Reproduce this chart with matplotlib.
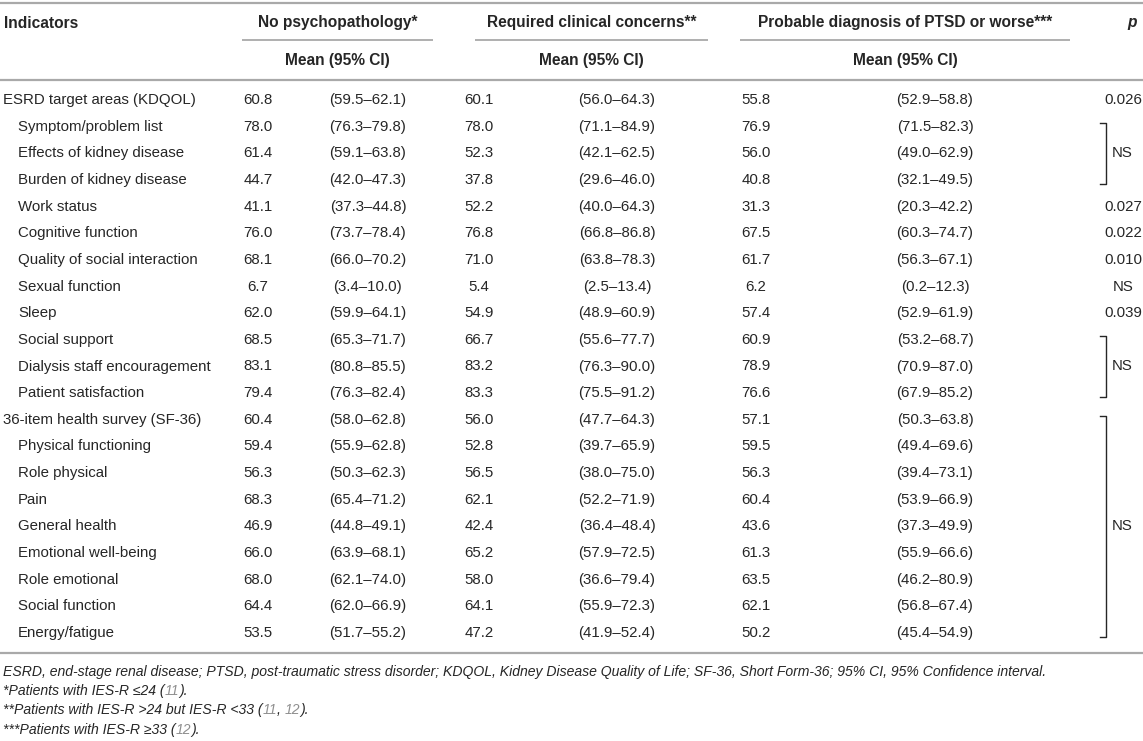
import matplotlib
matplotlib.use("Agg")
import matplotlib.pyplot as plt

# table content
indicators = [
    "ESRD target areas (KDQOL)", "Symptom/problem list", "Effects of kidney disease",
    "Burden of kidney disease", "Work status", "Cognitive function",
    "Quality of social interaction", "Sexual function", "Sleep", "Social support",
    "Dialysis staff encouragement", "Patient satisfaction", "36-item health survey (SF-36)",
    "Physical functioning", "Role physical", "Pain", "General health",
    "Emotional well-being", "Role emotional", "Social function", "Energy/fatigue",
]
section_rows = [0, 12]

no_psych_mean = [60.8, 78.0, 61.4, 44.7, 41.1, 76.0, 68.1, 6.7, 62.0, 68.5, 83.1,
                 79.4, 60.4, 59.4, 56.3, 68.3, 46.9, 66.0, 68.0, 64.4, 53.5]
no_psych_ci = ["59.5–62.1", "76.3–79.8", "59.1–63.8", "42.0–47.3", "37.3–44.8",
               "73.7–78.4", "66.0–70.2", "3.4–10.0", "59.9–64.1", "65.3–71.7",
               "80.8–85.5", "76.3–82.4", "58.0–62.8", "55.9–62.8", "50.3–62.3",
               "65.4–71.2", "44.8–49.1", "63.9–68.1", "62.1–74.0", "62.0–66.9",
               "51.7–55.2"]
clinical_mean = [60.1, 78.0, 52.3, 37.8, 52.2, 76.8, 71.0, 5.4, 54.9, 66.7, 83.2,
                 83.3, 56.0, 52.8, 56.5, 62.1, 42.4, 65.2, 58.0, 64.1, 47.2]
clinical_ci = ["56.0–64.3", "71.1–84.9", "42.1–62.5", "29.6–46.0", "40.0–64.3",
               "66.8–86.8", "63.8–78.3", "2.5–13.4", "48.9–60.9", "55.6–77.7",
               "76.3–90.0", "75.5–91.2", "47.7–64.3", "39.7–65.9", "38.0–75.0",
               "52.2–71.9", "36.4–48.4", "57.9–72.5", "36.6–79.4", "55.9–72.3",
               "41.9–52.4"]
ptsd_mean = [55.8, 76.9, 56.0, 40.8, 31.3, 67.5, 61.7, 6.2, 57.4, 60.9, 78.9,
             76.6, 57.1, 59.5, 56.3, 60.4, 43.6, 61.3, 63.5, 62.1, 50.2]
ptsd_ci = ["52.9–58.8", "71.5–82.3", "49.0–62.9", "32.1–49.5", "20.3–42.2",
           "60.3–74.7", "56.3–67.1", "0.2–12.3", "52.9–61.9", "53.2–68.7",
           "70.9–87.0", "67.9–85.2", "50.3–63.8", "49.4–69.6", "39.4–73.1",
           "53.9–66.9", "37.3–49.9", "55.9–66.6", "46.2–80.9", "56.8–67.4",
           "45.4–54.9"]
p_values = {0: "0.026", 4: "0.027", 5: "0.022", 6: "0.010", 7: "NS", 8: "0.039"}
ns_groups = [(1, 3), (9, 11), (12, 20)]

group_headers = ["No psychopathology*", "Required clinical concerns**",
                 "Probable diagnosis of PTSD or worse***"]
sub_header = "Mean (95% CI)"

footnotes = [
    [("ESRD, end-stage renal disease; PTSD, post-traumatic stress disorder; KDQOL, "
      "Kidney Disease Quality of Life; SF-36, Short Form-36; 95% CI, 95% Confidence interval.", "text")],
    [("*Patients with IES-R ≤24 (", "text"), ("11", "ref"), (").", "text")],
    [("**Patients with IES-R >24 but IES-R <33 (", "text"), ("11", "ref"), (", ", "text"),
     ("12", "ref"), (").", "text")],
    [("***Patients with IES-R ≥33 (", "text"), ("12", "ref"), (").", "text")],
]

# layout (pixels)
W, H = 1143, 741
TXT = "#262626"
REF = "#8f8f8f"
RULE = "#a9a9a9"
FS = 10.8
FS_HEAD = 11.2
FS_NOTE = 10.1
plt.rcParams["font.family"] = ["Liberation Sans", "DejaVu Sans"]

mean_x = [258, 479, 756]
ci_x = [368, 617, 935]
line_spans = [(242, 433), (475, 708), (740, 1070)]
p_x = 1123
bracket_x = 1106
row_y0, row_dy = 100, 26.65

fig = plt.figure(figsize=(W / 100, H / 100), dpi=100)
ax = fig.add_axes([0, 0, 1, 1])
ax.set_xlim(0, W)
ax.set_ylim(H, 0)
ax.axis("off")

# rules
ax.hlines([3, 80, 653], 0, W, color=RULE, lw=1.6)
for x0, x1 in line_spans:
    ax.hlines(40, x0, x1, color=RULE, lw=1.3)

# header
ax.text(4, 23, "Indicators", ha="left", va="center", fontsize=FS_HEAD, weight="bold", color=TXT)
for (x0, x1), label in zip(line_spans, group_headers):
    cx = (x0 + x1) / 2
    ax.text(cx, 23, label, ha="center", va="center", fontsize=FS_HEAD, weight="bold", color=TXT)
    ax.text(cx, 60, sub_header, ha="center", va="center", fontsize=FS_HEAD, weight="bold", color=TXT)
ax.text(1132, 23, "p", ha="center", va="center", fontsize=FS_HEAD, weight="bold",
        style="italic", color=TXT)

# body
groups = [(no_psych_mean, no_psych_ci), (clinical_mean, clinical_ci), (ptsd_mean, ptsd_ci)]
for i, name in enumerate(indicators):
    y = row_y0 + i * row_dy
    x = 3 if i in section_rows else 18
    ax.text(x, y, name, ha="left", va="center", fontsize=FS, color=TXT)
    for g, (means, cis) in enumerate(groups):
        ax.text(mean_x[g], y, f"{means[i]:.1f}", ha="center", va="center", fontsize=FS, color=TXT)
        ax.text(ci_x[g], y, f"({cis[i]})", ha="center", va="center", fontsize=FS, color=TXT)
    if i in p_values:
        ax.text(p_x, y, p_values[i], ha="center", va="center", fontsize=FS, color=TXT)

for first, last in ns_groups:
    top = row_y0 + first * row_dy - 4
    bottom = row_y0 + last * row_dy + 4
    ax.plot([bracket_x - 6, bracket_x, bracket_x, bracket_x - 6],
            [top, top, bottom, bottom], color=TXT, lw=1.0)
    ax.text(bracket_x + 6, (top + bottom) / 2, "NS", ha="left", va="center",
            fontsize=FS, color=TXT)

# footnotes, with reference numbers in grey
fig.canvas.draw()
renderer = fig.canvas.get_renderer()
for k, runs in enumerate(footnotes):
    y = 672 + k * 19.2
    x = 3
    for text, kind in runs:
        t = ax.text(x, y, text, ha="left", va="center", fontsize=FS_NOTE, style="italic",
                    color=TXT if kind == "text" else REF)
        x += t.get_window_extent(renderer).width

fig.savefig("out.png", dpi=100)
